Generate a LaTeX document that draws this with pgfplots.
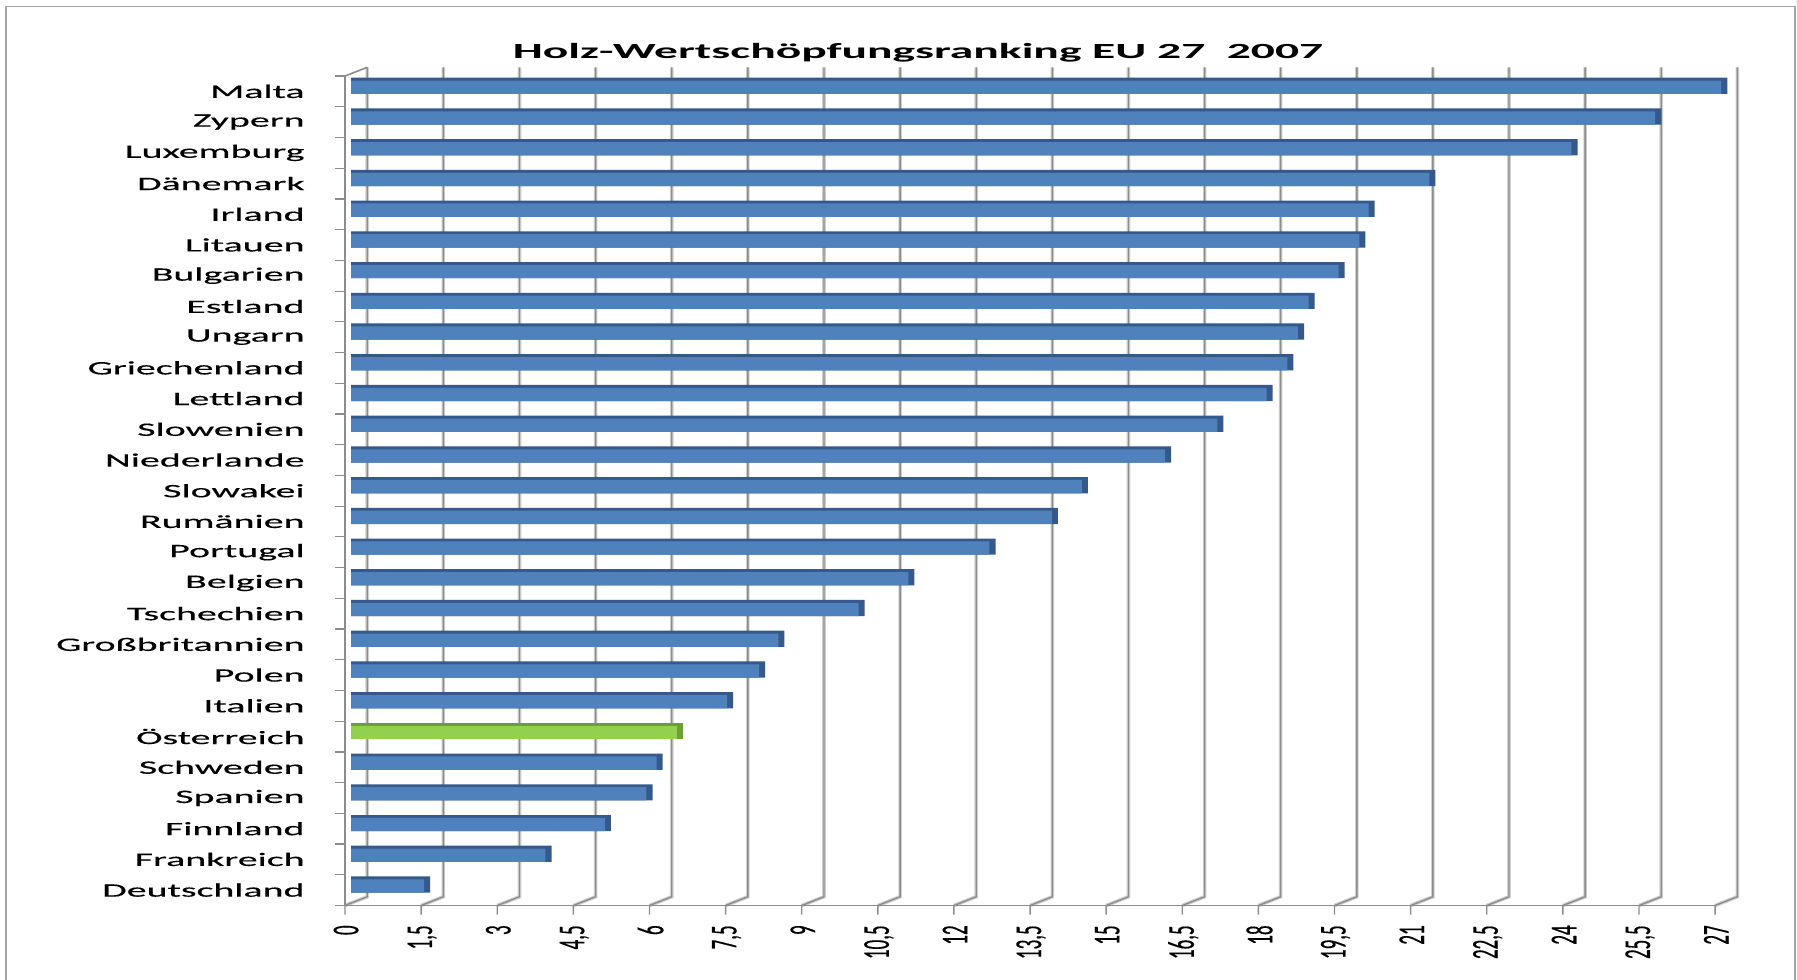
\documentclass[border=0pt]{standalone}
\usepackage{fontspec}
\usepackage{pgfplots}
\pgfplotsset{compat=1.18}
\setmainfont{Carlito}
\newfontfamily\catfont[FakeStretch=2.1, FakeBold=0.3]{Carlito}
\newfontfamily\tickfont[FakeStretch=0.5, FakeBold=0.3]{Carlito}
\newfontfamily\titlefont[FakeStretch=2.2]{Carlito}
\definecolor{barblue}{HTML}{4F81BD}
\definecolor{bardark}{HTML}{34598A}
\definecolor{bargreen}{HTML}{92D050}
\definecolor{greendark}{HTML}{6E9E3A}
\definecolor{wallgray}{HTML}{8C8C8C}
\definecolor{wallhalo}{HTML}{D0D0D0}
\begin{document}
\begin{tikzpicture}
\begin{axis}[
  at={(0,0)}, anchor=south west,
  scale only axis, width=696.2pt, height=419.1pt,
  xmin=-0.12, xmax=27.32, ymin=-0.635, ymax=26.65,
  clip=false, axis line style={draw=none}, major tick length=0pt,
  xtick={0,1.5,...,27},
  xticklabels={0,{1,5},3,{4,5},6,{7,5},9,{10,5},12,{13,5},15,{16,5},18,{19,5},21,{22,5},24,{25,5},27},
  xticklabel style={xshift=-2.5pt, yshift=-9.75pt, rotate=90, anchor=east, inner sep=0pt,
                    font=\tickfont\fontsize{19}{19}\selectfont},
  ytick={0,...,26},
  yticklabels={Deutschland,Frankreich,Finnland,Spanien,Schweden,Österreich,Italien,Polen,
               Großbritannien,Tschechien,Belgien,Portugal,Rumänien,Slowakei,Niederlande,
               Slowenien,Lettland,Griechenland,Ungarn,Estland,Bulgarien,Litauen,Irland,
               Dänemark,Luxemburg,Zypern,Malta},
  yticklabel style={anchor=east, inner sep=0pt, xshift=-20pt, yshift=-2.07pt,
                    font=\catfont\fontsize{9.5}{9.5}\selectfont},
  xbar, bar shift=0pt,
]
% Rückwand-Gitter und Boden
\pgfplotsinvokeforeach{0,1.5,...,27}{
  \draw[wallhalo, line width=1.8pt]
    ([xshift=8.1pt]axis cs:#1,26.65) -- ([xshift=8.1pt]axis cs:#1,-0.35) -- ([xshift=-3.04pt]axis cs:#1,-0.635);
  \draw[wallgray, line width=0.7pt]
    ([xshift=8.1pt]axis cs:#1,26.65) -- ([xshift=8.1pt]axis cs:#1,-0.35) -- ([xshift=-3.04pt]axis cs:#1,-0.635)
    -- ([xshift=-3.04pt, yshift=-4.5pt]axis cs:#1,-0.635);
}
\draw[wallgray, line width=0.7pt] (axis cs:-0.12,-0.635) -- (axis cs:26.88,-0.635);
\draw[wallgray, line width=0.8pt] (axis cs:-0.12,-0.635) -- (axis cs:-0.12,26.365) -- (axis cs:0.32,26.65);
\pgfplotsinvokeforeach{-1,...,26}{
  \draw[wallgray, line width=0.6pt] ([yshift=5.6pt]axis cs:-0.12,#1) -- ([yshift=5.6pt, xshift=-5pt]axis cs:-0.12,#1);
}
% dunkle Ober- und Endflächen
\addplot[fill=bardark, draw=none, bar width=8.1pt, bar shift=0.72pt] coordinates {
  (1.56,0) (3.95,1) (5.12,2) (5.94,3) (6.14,4) (7.53,6) (8.16,7) (8.54,8)
  (10.12,9) (11.10,10) (12.70,11) (13.93,12) (14.52,13) (16.16,14) (17.19,15)
  (18.16,16) (18.57,17) (18.78,18) (18.99,19) (19.58,20) (19.99,21) (20.17,22)
  (21.37,23) (24.17,24) (25.82,25) (27.12,26)};
\addplot[fill=greendark, draw=none, bar width=8.1pt, bar shift=0.72pt] coordinates {(6.54,5)};
% Balken
\addplot[fill=barblue, draw=none, bar width=6.65pt] coordinates {
  (1.44,0) (3.83,1) (5.00,2) (5.82,3) (6.02,4) (7.41,6) (8.04,7) (8.42,8)
  (10.00,9) (10.98,10) (12.58,11) (13.81,12) (14.40,13) (16.04,14) (17.07,15)
  (18.04,16) (18.45,17) (18.66,18) (18.87,19) (19.46,20) (19.87,21) (20.05,22)
  (21.25,23) (24.05,24) (25.70,25) (27.00,26)};
\addplot[fill=bargreen, draw=none, bar width=6.65pt] coordinates {(6.42,5)};
\end{axis}
\node[anchor=base, inner sep=0pt, font=\titlefont\bfseries\fontsize{10.8}{10.8}\selectfont]
  at (286.5pt,423.25pt) {Holz-Wertschöpfungsranking EU 27~~2007};
\draw[gray!70, line width=0.9pt] (-169.5pt,-40pt) -- (-169.5pt,449.5pt) -- (725pt,449.5pt) -- (725pt,-40pt);
\pgfresetboundingbox
\path[use as bounding box] (-172.5pt,-36.75pt) rectangle (726pt,452.75pt);
\end{tikzpicture}
\end{document}
